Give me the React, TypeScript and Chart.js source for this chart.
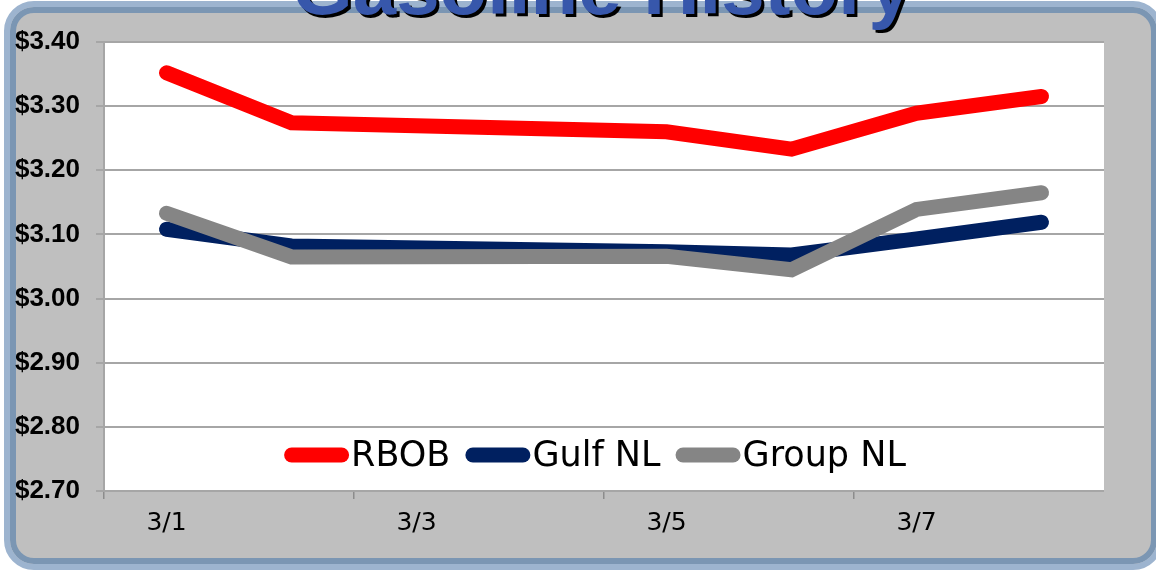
import { useEffect, useRef } from 'react';
import { Chart, registerables } from 'chart.js';

Chart.register(...registerables);

const title = 'Gasoline History';
const dates = ['3/1', '3/2', '3/3', '3/4', '3/5', '3/6', '3/7', '3/8'];
const rbob = [3.352, 3.274, null, null, 3.26, 3.233, 3.289, 3.315];
const gulfNL = [3.108, 3.082, null, null, 3.073, 3.068, 3.093, 3.119];
const groupNL = [3.133, 3.065, null, null, 3.066, 3.045, 3.139, 3.165];
const yMin = 2.7;
const yMax = 3.4;
const yStep = 0.1;

const plotBgPlugin = {
  id: 'plotBg',
  beforeDraw(chart: any) {
    const { ctx, chartArea } = chart;
    ctx.save();
    ctx.fillStyle = '#ffffff';
    ctx.fillRect(chartArea.left, chartArea.top, chartArea.right - chartArea.left, chartArea.bottom - chartArea.top);
    ctx.restore();
  },
};

const insideLegendPlugin = {
  id: 'insideLegend',
  afterDatasetsDraw(chart: any) {
    const { ctx, chartArea } = chart;
    ctx.save();
    ctx.font = '35px "DejaVu Sans"';
    const lineLen = 50;
    const cap = 7.5;
    const gap = 15;
    const items = chart.data.datasets.map((ds: any) => ({
      label: ds.label,
      color: ds.borderColor,
      w: ctx.measureText(ds.label).width,
    }));
    const total =
      items.reduce((s: number, it: any) => s + cap * 2 + lineLen + 2 + it.w, 0) + gap * (items.length - 1);
    let x = (chartArea.left + chartArea.right) / 2 - 9 - total / 2;
    const y = chartArea.bottom - 36;
    for (const it of items) {
      ctx.strokeStyle = it.color;
      ctx.lineWidth = 15;
      ctx.lineCap = 'round';
      ctx.beginPath();
      ctx.moveTo(x + cap, y);
      ctx.lineTo(x + cap + lineLen, y);
      ctx.stroke();
      x += cap * 2 + lineLen + 2;
      ctx.fillStyle = '#000000';
      ctx.textAlign = 'left';
      ctx.textBaseline = 'alphabetic';
      ctx.fillText(it.label, x, y + 11);
      x += it.w + gap;
    }
    ctx.restore();
  },
};

const titlePlugin = {
  id: 'cutTitle',
  afterDraw(chart: any) {
    const { ctx } = chart;
    ctx.save();
    ctx.font = 'bold 78px "Liberation Sans"';
    ctx.textAlign = 'center';
    ctx.textBaseline = 'alphabetic';
    ctx.fillStyle = '#000000';
    ctx.fillText(title, 605, 17);
    ctx.fillStyle = '#3757ab';
    ctx.fillText(title, 602, 14);
    ctx.restore();
  },
};

export default function App() {
  const ref = useRef<HTMLCanvasElement>(null);

  useEffect(() => {
    const chart = new Chart(ref.current as HTMLCanvasElement, {
      type: 'line',
      data: {
        labels: dates,
        datasets: [
          { label: 'RBOB', data: rbob, borderColor: '#ff0000', order: 2, spanGaps: true },
          { label: 'Gulf NL', data: gulfNL, borderColor: '#002060', order: 1, spanGaps: true },
          { label: 'Group NL', data: groupNL, borderColor: '#858585', order: 0, spanGaps: true },
        ],
      },
      options: {
        responsive: false,
        animation: false,
        devicePixelRatio: 1,
        layout: { padding: { left: 0, top: 42, right: 52, bottom: 0 } },
        elements: {
          line: { borderWidth: 15, borderCapStyle: 'round', borderJoinStyle: 'miter', tension: 0, fill: false },
          point: { radius: 0, hoverRadius: 0 },
        },
        plugins: { legend: { display: false }, tooltip: { enabled: false } },
        scales: {
          x: {
            offset: true,
            grid: {
              offset: true,
              drawOnChartArea: false,
              drawTicks: true,
              tickLength: 8,
              lineWidth: 1.5,
              color: (c: any) => (c.index % 2 === 0 ? '#8c8c8c' : 'rgba(0,0,0,0)'),
            },
            border: { display: false },
            ticks: {
              autoSkip: false,
              maxRotation: 0,
              padding: 9,
              color: '#000000',
              font: { family: 'DejaVu Sans', size: 25 },
              callback: (_v: any, i: number) => (i % 2 === 0 ? dates[i] : ''),
            },
            afterFit: (s: any) => {
              s.height = 81;
            },
          },
          y: {
            min: yMin,
            max: yMax,
            ticks: {
              stepSize: yStep,
              padding: 16,
              color: '#000000',
              font: { family: 'Liberation Sans', size: 26, weight: 'bold' },
              callback: (v: any) => '$' + Number(v).toFixed(2),
            },
            grid: { color: '#a6a6a6', lineWidth: 2, tickLength: 8 },
            border: { display: true, color: '#a6a6a6', width: 2 },
            afterFit: (s: any) => {
              s.width = 104;
            },
          },
        },
      } as any,
      plugins: [plotBgPlugin, insideLegendPlugin, titlePlugin],
    });
    return () => chart.destroy();
  }, []);

  return (
    <div style={{ position: 'fixed', left: 0, top: 0, width: 1156, height: 572, overflow: 'hidden', background: '#ffffff' }}>
      <div
        style={{
          position: 'absolute',
          left: 4,
          top: 1,
          width: 1159,
          height: 569,
          boxSizing: 'border-box',
          border: '6px solid #9db4cf',
          borderRadius: 30,
          boxShadow: 'inset 0 0 0 6px #7b96b3',
          background: '#bfbfbf',
        }}
      />
      <canvas ref={ref} width={1156} height={572} style={{ position: 'absolute', left: 0, top: 0, width: 1156, height: 572 }} />
    </div>
  );
}
